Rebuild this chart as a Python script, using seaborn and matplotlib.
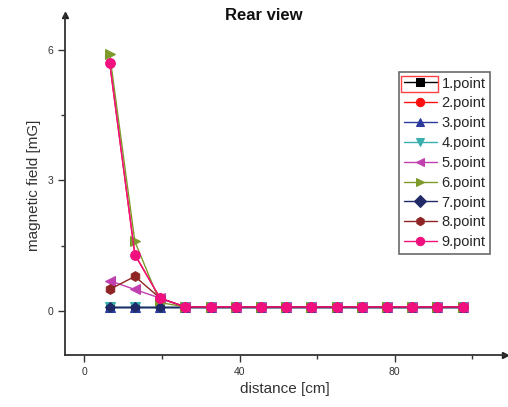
import numpy as np
import pandas as pd
import seaborn as sns
import matplotlib
matplotlib.use("Agg")
import matplotlib.pyplot as plt
from matplotlib.patches import Rectangle

# measurement positions along the rear side
distance_cm = [6.5, 13, 19.5, 26, 32.5, 39, 45.5, 52, 58.5, 65, 71.5, 78, 84.5, 91, 97.5]

point1 = [0.1, 0.1, 0.1, 0.1, 0.1, 0.1, 0.1, 0.1, 0.1, 0.1, 0.1, 0.1, 0.1, 0.1, 0.1]
point2 = [5.7, 1.3, 0.3, 0.1, 0.1, 0.1, 0.1, 0.1, 0.1, 0.1, 0.1, 0.1, 0.1, 0.1, 0.1]
point3 = [0.1, 0.1, 0.1, 0.1, 0.1, 0.1, 0.1, 0.1, 0.1, 0.1, 0.1, 0.1, 0.1, 0.1, 0.1]
point4 = [0.1, 0.1, 0.1, 0.1, 0.1, 0.1, 0.1, 0.1, 0.1, 0.1, 0.1, 0.1, 0.1, 0.1, 0.1]
point5 = [0.7, 0.5, 0.3, 0.1, 0.1, 0.1, 0.1, 0.1, 0.1, 0.1, 0.1, 0.1, 0.1, 0.1, 0.1]
point6 = [5.9, 1.6, 0.2, 0.1, 0.1, 0.1, 0.1, 0.1, 0.1, 0.1, 0.1, 0.1, 0.1, 0.1, 0.1]
point7 = [0.1, 0.1, 0.1, 0.1, 0.1, 0.1, 0.1, 0.1, 0.1, 0.1, 0.1, 0.1, 0.1, 0.1, 0.1]
point8 = [0.5, 0.8, 0.3, 0.1, 0.1, 0.1, 0.1, 0.1, 0.1, 0.1, 0.1, 0.1, 0.1, 0.1, 0.1]
point9 = [5.7, 1.3, 0.3, 0.1, 0.1, 0.1, 0.1, 0.1, 0.1, 0.1, 0.1, 0.1, 0.1, 0.1, 0.1]

series_names = ["1.point", "2.point", "3.point", "4.point", "5.point",
                "6.point", "7.point", "8.point", "9.point"]
series_values = [point1, point2, point3, point4, point5,
                 point6, point7, point8, point9]

colors = ["#000000", "#FF1010", "#2A3A9E", "#3AAFAF", "#C040B0",
          "#7E9A2A", "#1F2A66", "#8E2424", "#F0107E"]
markers = ["s", "o", "^", "v", "<", ">", "D", "h", "o"]
marker_sizes = [5.5, 5, 6.5, 6.5, 6.5, 6.5, 5.5, 7, 7]

x_major = [0, 40, 80]
x_minor = [20, 60, 100]
y_major = [0, 3, 6]
y_minor = [1.5, 4.5]

frames = []
for name, vals in zip(series_names, series_values):
    frames.append(pd.DataFrame({"distance": distance_cm, "field": vals, "series": name}))
df = pd.concat(frames, ignore_index=True)

sns.set_style("ticks")
plt.rcParams["font.family"] = ["Liberation Sans", "DejaVu Sans"]

fig = plt.figure(figsize=(5.08, 4.07), dpi=100)
ax = fig.add_axes([0.128, 0.128, 0.866, 0.835])

for name, col, mk, ms in zip(series_names, colors, markers, marker_sizes):
    sub = df[df["series"] == name]
    sns.lineplot(data=sub, x="distance", y="field", ax=ax, color=col,
                 marker=mk, markersize=ms, markeredgecolor=col, linewidth=1.0,
                 label=name, estimator=None, sort=False)

ax.set_xlim(-5, 108.4)
ax.set_ylim(-1.0, 6.79)
ax.set_xticks(x_major)
ax.set_xticks(x_minor, minor=True)
ax.set_yticks(y_major)
ax.set_yticks(y_minor, minor=True)
ax.tick_params(axis="both", which="major", labelsize=7.5, length=5, width=1,
               color="#333333", labelcolor="#333333", direction="out")
ax.tick_params(axis="both", which="minor", length=3, width=1, color="#333333",
               direction="out")

for side in ["top", "right"]:
    ax.spines[side].set_visible(False)
for side in ["left", "bottom"]:
    ax.spines[side].set_color("#333333")
    ax.spines[side].set_linewidth(1.3)

# arrow heads at the ends of the axes
ax.plot([0], [1], marker="^", color="#222222", markersize=5,
        transform=ax.transAxes, clip_on=False)
ax.plot([1], [0], marker=">", color="#222222", markersize=5,
        transform=ax.transAxes, clip_on=False)

ax.set_xlabel("distance [cm]", fontsize=11, color="#333333")
ax.set_ylabel("magnetic field [mG]", fontsize=11, color="#333333", labelpad=5)
fig.text(0.52, 0.962, "Rear view", ha="center", va="center",
         fontsize=12, fontweight="bold", color="#111111")

leg = ax.legend(loc="upper right", bbox_to_anchor=(0.966, 0.832),
                borderaxespad=0, fontsize=10.5, frameon=True, fancybox=False,
                handlelength=2.3, labelspacing=0.4, handletextpad=0.3,
                borderpad=0.3)
leg.get_frame().set_edgecolor("#444444")
leg.get_frame().set_linewidth(1.2)
for h in leg.legend_handles:
    h.set_markersize(6)

# highlight box around the first legend entry
fig.canvas.draw()
renderer = fig.canvas.get_renderer()
txt_bb = leg.get_texts()[0].get_window_extent(renderer)
px_per_pt = fig.dpi / 72.0
fs = leg.prop.get_size_in_points()
hl = leg.handlelength * fs * px_per_pt
x1 = txt_bb.x0 - leg.handletextpad * fs * px_per_pt - 1
x0 = x1 - hl - 2
yc = (txt_bb.y0 + txt_bb.y1) / 2
inv = fig.transFigure.inverted()
(fx0, fy0) = inv.transform((x0, yc - 8))
(fx1, fy1) = inv.transform((x1 + 2, yc + 8))
fig.add_artist(Rectangle((fx0, fy0), fx1 - fx0, fy1 - fy0, fill=False,
                         edgecolor="#FF4040", linewidth=1.0,
                         transform=fig.transFigure))

fig.savefig("out.png", dpi=100)
